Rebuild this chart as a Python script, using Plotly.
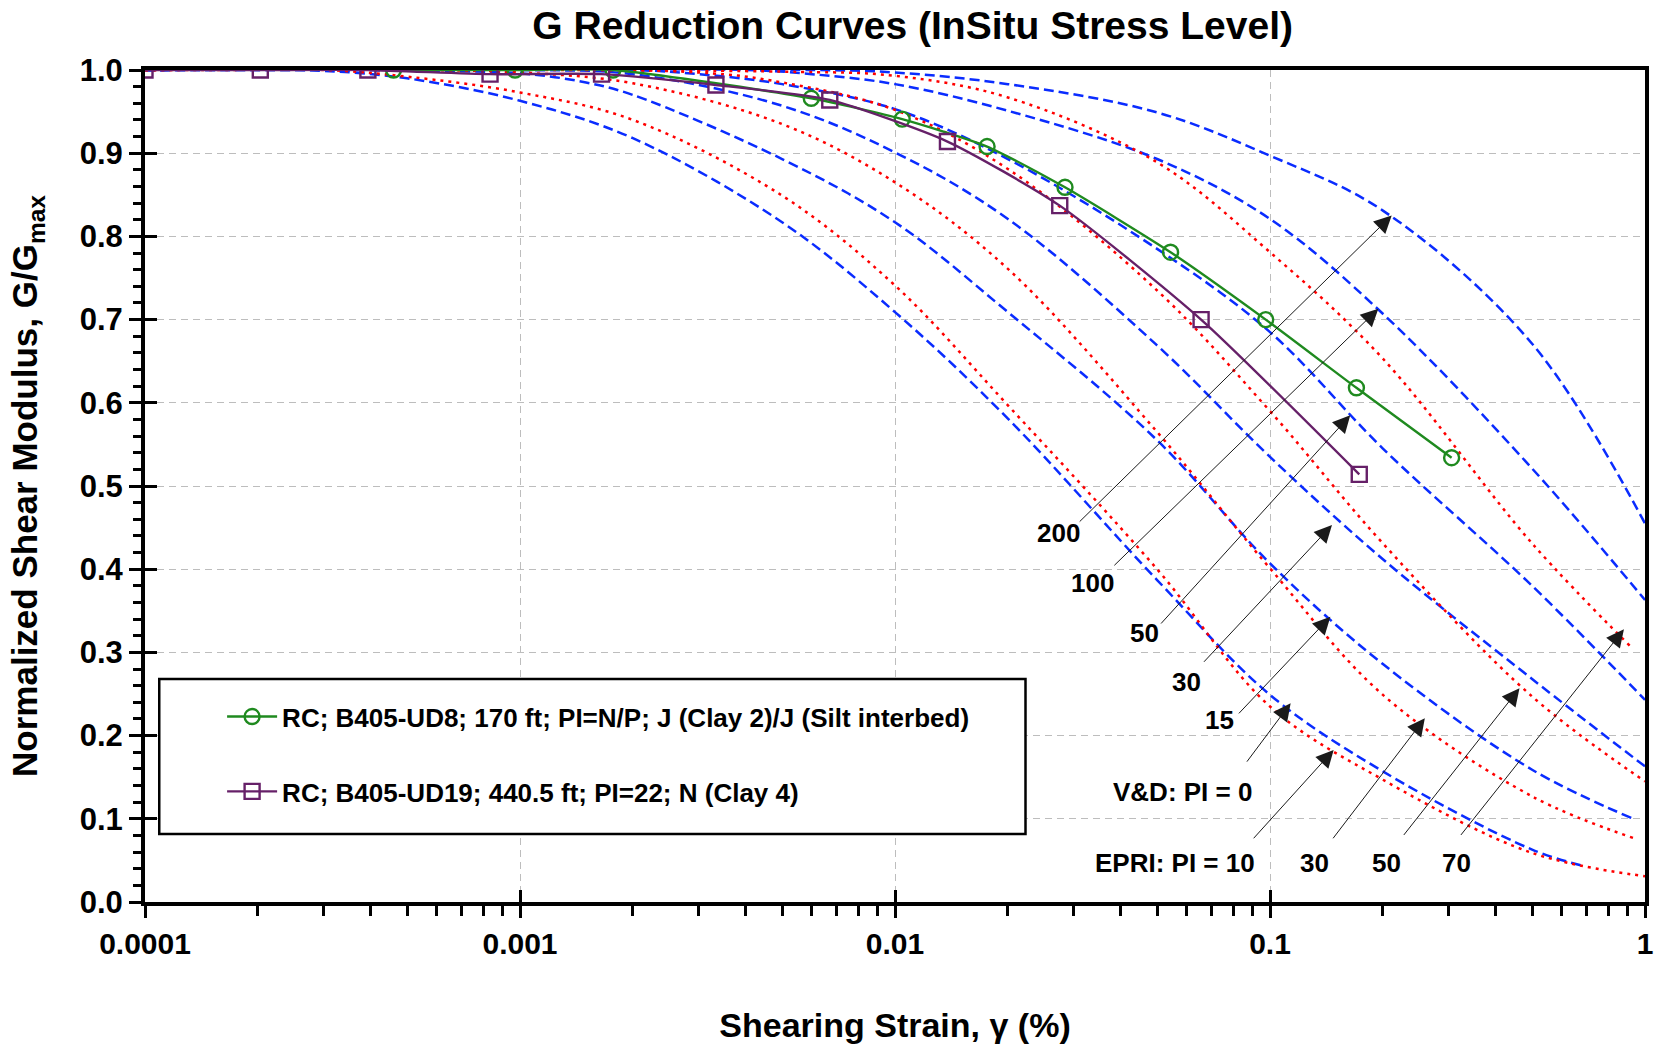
import numpy as np
import plotly.graph_objects as go

# ---------------- data ----------------
# Vucetic & Dobry (V&D) reference curves, strain (%) vs G/Gmax
vd0_x = [0.0001, 0.0002, 0.0003, 0.0005, 0.001, 0.002, 0.005, 0.01, 0.02, 0.05, 0.1, 0.2, 0.5, 0.69]
vd0_y = [1.0, 1.0, 0.999, 0.99, 0.963, 0.918, 0.817, 0.709, 0.581, 0.387, 0.249, 0.157, 0.063, 0.043]
vd15_x = [0.0001, 0.0003, 0.0005, 0.001, 0.0015, 0.002, 0.005, 0.01, 0.02, 0.05, 0.1, 0.2, 0.5, 0.92]
vd15_y = [1.0, 1.0, 0.999, 0.996, 0.985, 0.97, 0.893, 0.817, 0.709, 0.555, 0.407, 0.286, 0.159, 0.101]
vd30_x = [0.0001, 0.001, 0.002, 0.005, 0.01, 0.02, 0.05, 0.1, 0.2, 0.5, 1.0]
vd30_y = [1.0, 1.0, 0.995, 0.957, 0.901, 0.821, 0.669, 0.535, 0.412, 0.268, 0.163]
vd50_x = [0.0001, 0.002, 0.003, 0.005, 0.01, 0.02, 0.05, 0.1, 0.2, 0.5, 1.0]
vd50_y = [1.0, 1.0, 0.995, 0.983, 0.953, 0.893, 0.785, 0.685, 0.545, 0.38, 0.243]
vd100_x = [0.0001, 0.004, 0.006, 0.01, 0.02, 0.05, 0.1, 0.2, 0.5, 1.0]
vd100_y = [1.0, 1.0, 0.995, 0.983, 0.951, 0.893, 0.821, 0.707, 0.521, 0.363]
vd200_x = [0.0001, 0.006, 0.01, 0.02, 0.05, 0.1, 0.2, 0.5, 1.0]
vd200_y = [1.0, 1.0, 0.997, 0.983, 0.949, 0.897, 0.831, 0.671, 0.455]

# EPRI reference curves
epri10_x = [0.0001, 0.0003, 0.0005, 0.001, 0.002, 0.005, 0.01, 0.02, 0.05, 0.1, 0.2, 0.5, 1.0]
epri10_y = [1.0, 1.0, 0.992, 0.973, 0.94, 0.849, 0.741, 0.597, 0.40, 0.235, 0.147, 0.059, 0.031]
epri30_x = [0.0001, 0.0005, 0.001, 0.002, 0.005, 0.01, 0.02, 0.05, 0.1, 0.2, 0.5, 0.93]
epri30_y = [1.0, 1.0, 0.997, 0.984, 0.935, 0.865, 0.761, 0.565, 0.401, 0.249, 0.127, 0.077]
epri50_x = [0.0001, 0.003, 0.005, 0.01, 0.02, 0.05, 0.1, 0.2, 0.5, 1.0]
epri50_y = [1.0, 0.997, 0.985, 0.952, 0.881, 0.735, 0.59, 0.431, 0.247, 0.145]
epri70_x = [0.0001, 0.005, 0.01, 0.02, 0.05, 0.1, 0.2, 0.5, 0.925]
epri70_y = [1.0, 0.998, 0.993, 0.967, 0.889, 0.781, 0.653, 0.431, 0.305]

# Resonant column test data
ud8_strain = [0.00046, 0.00097, 0.00177, 0.00598, 0.01045, 0.0176, 0.0284, 0.0543, 0.0974, 0.170, 0.305]
ud8_ggmax = [1.0, 1.0, 1.0, 0.966, 0.941, 0.908, 0.859, 0.781, 0.700, 0.618, 0.534]
ud19_strain = [0.0001, 0.000203, 0.000393, 0.000832, 0.00165, 0.00333, 0.0067, 0.0138, 0.0275, 0.0655, 0.173]
ud19_ggmax = [1.0, 1.0, 1.0, 0.995, 0.995, 0.982, 0.964, 0.914, 0.837, 0.700, 0.514]

ud8_name = "RC; B405-UD8; 170 ft; PI=N/P; J (Clay 2)/J (Silt interbed)"
ud19_name = "RC; B405-UD19; 440.5 ft; PI=22; N (Clay 4)"

x_tickvals = [0.0001, 0.001, 0.01, 0.1, 1]
x_ticktext = ["0.0001", "0.001", "0.01", "0.1", "1"]

# label annotations: (text, label x, label y, arrow start x, y, arrow tip x, y, xanchor)
vd_labels = [
    ("200", 0.02727, 0.443, 0.0308, 0.4555, 0.2111, 0.8251, "center"),
    ("100", 0.03365, 0.3837, 0.0381, 0.4029, 0.1945, 0.7131, "center"),
    ("50", 0.04632, 0.3229, 0.0508, 0.3329, 0.1637, 0.585, "center"),
    ("30", 0.05976, 0.2648, 0.0661, 0.2869, 0.1463, 0.453, "center"),
    ("15", 0.07322, 0.2188, 0.0819, 0.2249, 0.1449, 0.3429, "center"),
    ("V&D: PI = 0", 0.0905, 0.1328, 0.0862, 0.1669, 0.1135, 0.2389, "right"),
]
epri_labels = [
    ("EPRI: PI = 10", 0.0925, 0.0468, 0.0897, 0.0748, 0.1478, 0.1828, "right"),
    ("30", 0.1314, 0.0468, 0.1463, 0.0748, 0.2588, 0.2209, "center"),
    ("50", 0.2040, 0.0468, 0.2258, 0.0788, 0.4627, 0.2569, "center"),
    ("70", 0.3135, 0.0468, 0.3206, 0.0788, 0.8787, 0.3277, "center"),
]

# ---------------- figure ----------------
FONT = "Liberation Sans, Arial, sans-serif"
BLUE = "#0a2cff"
RED = "#ff0000"
GREEN = "#1f8a1f"
PURPLE = "#662068"

fig = go.Figure()

for xs, ys in [(vd0_x, vd0_y), (vd15_x, vd15_y), (vd30_x, vd30_y),
               (vd50_x, vd50_y), (vd100_x, vd100_y), (vd200_x, vd200_y)]:
    fig.add_trace(go.Scatter(x=xs, y=ys, mode="lines", showlegend=False, hoverinfo="skip",
                             line=dict(color=BLUE, width=2.5, dash="10px,5px", shape="spline", smoothing=1.0)))
for xs, ys in [(epri10_x, epri10_y), (epri30_x, epri30_y), (epri50_x, epri50_y), (epri70_x, epri70_y)]:
    fig.add_trace(go.Scatter(x=xs, y=ys, mode="lines", showlegend=False, hoverinfo="skip",
                             line=dict(color=RED, width=2.5, dash="3px,5px", shape="spline", smoothing=1.0)))

fig.add_trace(go.Scatter(x=ud8_strain, y=ud8_ggmax, mode="lines+markers", name=ud8_name,
                         legendgroup="a",
                         line=dict(color=GREEN, width=2.4, shape="spline", smoothing=0.6),
                         marker=dict(symbol="circle-open", size=15, color=GREEN, line=dict(width=2.4, color=GREEN))))
fig.add_trace(go.Scatter(x=ud19_strain, y=ud19_ggmax, mode="lines+markers", name=ud19_name,
                         legendgroup="b",
                         line=dict(color=PURPLE, width=2.4, shape="spline", smoothing=0.6),
                         marker=dict(symbol="square-open", size=15, color=PURPLE, line=dict(width=2.4, color=PURPLE))))

# empty trace on overlay axes that carry the inner half of the major ticks
fig.add_trace(go.Scatter(x=[], y=[], xaxis="x2", yaxis="y2", showlegend=False, hoverinfo="skip"))

annotations = []
for text, lx, ly, sx, sy, tx, ty, xa in vd_labels + epri_labels:
    annotations.append(dict(x=np.log10(tx), y=ty, ax=np.log10(sx), ay=sy, xref="x", yref="y",
                            axref="x", ayref="y", text="", showarrow=True, arrowhead=2,
                            arrowsize=3.5, arrowwidth=1, arrowcolor="#1a1a1a", standoff=0, startstandoff=0))
    annotations.append(dict(x=np.log10(lx), y=ly, xref="x", yref="y", text=text, showarrow=False,
                            xanchor=xa, yanchor="middle",
                            font=dict(family=FONT, size=26, color="black", weight="bold")))

fig.update_layout(
    width=1663, height=1050,
    margin=dict(l=145, r=10, t=70, b=148),
    paper_bgcolor="white", plot_bgcolor="white",
    font=dict(family=FONT, color="black", weight="bold"),
    title=dict(text="G Reduction Curves (InSitu Stress Level)", x=0.5488, xref="container", xanchor="center",
               y=0.9755, yref="container", yanchor="middle",
               font=dict(family=FONT, size=39, color="black", weight="bold")),
    xaxis=dict(type="log", range=[-4, 0], tickmode="array", tickvals=x_tickvals, ticktext=x_ticktext,
               ticks="outside", ticklen=12, tickwidth=3, tickcolor="black",
               ticklabelstandoff=0,
               tickfont=dict(family=FONT, size=30, color="black", weight="bold"),
               minor=dict(ticks="outside", ticklen=10, tickwidth=3, tickcolor="black", dtick="D1", showgrid=False),
               showgrid=True, gridcolor="#bdbdbd", gridwidth=1, griddash="7px,5px",
               showline=True, linewidth=4, linecolor="black", mirror=True, zeroline=False,
               title=dict(text="Shearing Strain, γ (%)", standoff=55,
                          font=dict(family=FONT, size=34, color="black", weight="bold"))),
    yaxis=dict(range=[0, 1], tickmode="linear", tick0=0, dtick=0.1, tickformat=".1f",
               ticks="outside", ticklen=12, tickwidth=3, tickcolor="black",
               tickfont=dict(family=FONT, size=31, color="black", weight="bold"),
               minor=dict(ticks="outside", ticklen=8, tickwidth=3, tickcolor="black", dtick=0.02, showgrid=False),
               showgrid=True, gridcolor="#bdbdbd", gridwidth=1, griddash="7px,5px",
               showline=True, linewidth=4, linecolor="black", mirror=True, zeroline=False,
               title=dict(text="Normalized Shear Modulus, G/G<sub>max</sub>", standoff=32,
                          font=dict(family=FONT, size=35, color="black", weight="bold"))),
    xaxis2=dict(type="log", range=[-4, 0], overlaying="x", anchor="y", tickmode="array", tickvals=x_tickvals,
                ticks="inside", ticklen=12, tickwidth=3, tickcolor="black", showticklabels=False,
                showgrid=False, showline=False, zeroline=False),
    yaxis2=dict(range=[0, 1], overlaying="y", anchor="x", side="left", tickmode="linear", tick0=0, dtick=0.1,
                ticks="inside", ticklen=12, tickwidth=3, tickcolor="black", showticklabels=False,
                showgrid=False, showline=False, zeroline=False),
    legend=dict(x=0.0514, y=0.251, xanchor="left", yanchor="top", bgcolor="rgba(0,0,0,0)",
                borderwidth=0, traceorder="grouped", tracegroupgap=38, itemwidth=50,
                font=dict(family=FONT, size=26, color="black", weight="bold")),
    shapes=[dict(type="rect", xref="paper", yref="paper", x0=0.0095, x1=0.587, y0=0.0817, y1=0.2681,
                 line=dict(color="black", width=2.5), fillcolor="white", layer="above")],
    annotations=annotations,
)

# remove the browser's default 8px body margin so the figure fills the window exactly
fig.write_html("out.html", config={"displayModeBar": False},
               post_script="document.body.style.margin='0px';")
